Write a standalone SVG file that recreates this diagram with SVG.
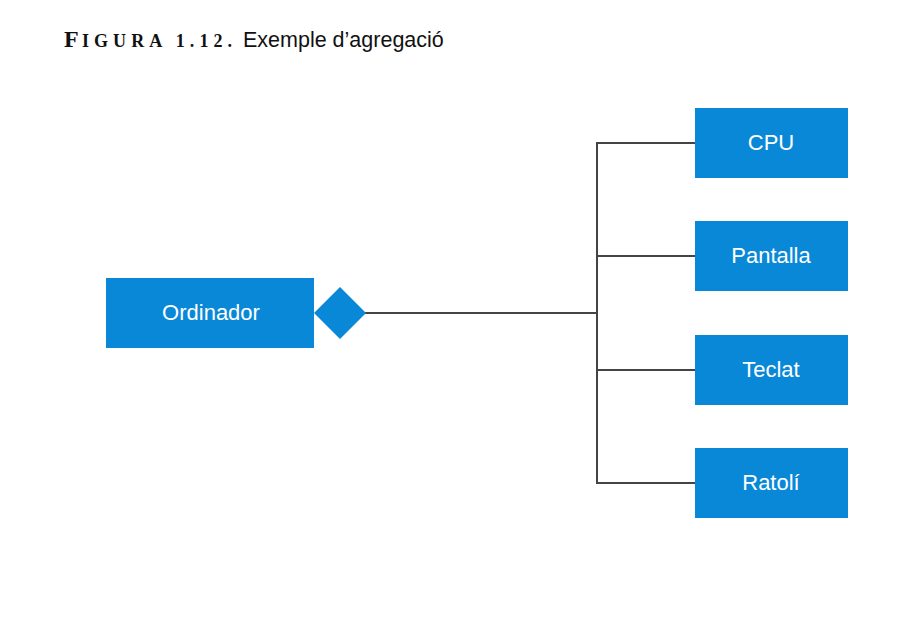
<svg xmlns="http://www.w3.org/2000/svg" width="920" height="625" viewBox="0 0 920 625">
<style>
.box{fill:#0a88d8}
.lbl{font-family:"Liberation Sans",Arial,sans-serif;font-size:22px;fill:#ffffff;text-anchor:middle;dominant-baseline:central}
.conn{stroke:#444444;stroke-width:2;fill:none}
.cap{font-family:"Liberation Serif","Times New Roman",serif;font-weight:bold;fill:#111111}
.capt{font-family:"Liberation Sans",Arial,sans-serif;font-size:21.5px;fill:#111111}
</style>
<rect width="920" height="625" fill="#ffffff"/>
<g id="caption">
<text class="cap" x="64" y="47" font-size="24">F</text>
<text class="cap" x="82" y="47" font-size="18" textLength="150" lengthAdjust="spacing">IGURA 1.12.</text>
<text class="capt" x="243" y="47">Exemple d’agregació</text>
</g>
<g id="connectors">
<polyline class="conn" points="365,313 597,313"/>
<polyline class="conn" points="695,143 597,143 597,483 695,483"/>
<line class="conn" x1="597" y1="256" x2="695" y2="256"/>
<line class="conn" x1="597" y1="370" x2="695" y2="370"/>
</g>
<g id="ordinador">
<rect class="box" x="106" y="278" width="208" height="70"/>
<text class="lbl" x="211" y="312">Ordinador</text>
</g>
<g id="diamond">
<polygon class="box" points="314,313 340,287 366,313 340,339"/>
</g>
<g id="cpu">
<rect class="box" x="695" y="108" width="153" height="70"/>
<text class="lbl" x="771" y="142">CPU</text>
</g>
<g id="pantalla">
<rect class="box" x="695" y="221" width="153" height="70"/>
<text class="lbl" x="771" y="255">Pantalla</text>
</g>
<g id="teclat">
<rect class="box" x="695" y="335" width="153" height="70"/>
<text class="lbl" x="771" y="369">Teclat</text>
</g>
<g id="ratoli">
<rect class="box" x="695" y="448" width="153" height="70"/>
<text class="lbl" x="771" y="482">Ratolí</text>
</g>
</svg>
